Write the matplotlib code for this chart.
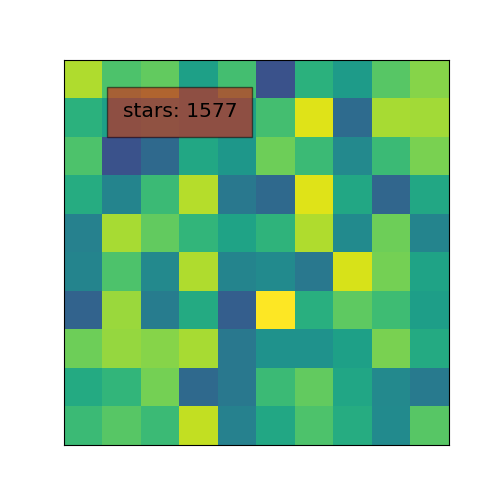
import matplotlib
matplotlib.use("Agg")
import matplotlib.pyplot as plt
import numpy as np

rows = [
    [0.88, 0.72, 0.76, 0.57, 0.70, 0.25, 0.64, 0.55, 0.74, 0.82],
    [0.64, 0.57, 0.59, 0.57, 0.57, 0.70, 0.95, 0.35, 0.87, 0.86],
    [0.72, 0.25, 0.34, 0.60, 0.53, 0.78, 0.68, 0.47, 0.68, 0.80],
    [0.62, 0.45, 0.68, 0.89, 0.40, 0.34, 0.95, 0.60, 0.33, 0.60],
    [0.44, 0.87, 0.76, 0.66, 0.58, 0.65, 0.88, 0.48, 0.78, 0.45],
    [0.45, 0.72, 0.47, 0.88, 0.45, 0.48, 0.40, 0.94, 0.79, 0.58],
    [0.32, 0.85, 0.42, 0.61, 0.30, 1.00, 0.63, 0.75, 0.69, 0.56],
    [0.78, 0.84, 0.82, 0.87, 0.40, 0.51, 0.51, 0.57, 0.80, 0.61],
    [0.61, 0.66, 0.79, 0.34, 0.40, 0.68, 0.76, 0.59, 0.47, 0.41],
    [0.68, 0.74, 0.68, 0.91, 0.44, 0.60, 0.72, 0.62, 0.48, 0.74],
]
label = "stars: 1577"

data = np.array(rows)
fig, ax = plt.subplots(figsize=(5, 5), dpi=100)
ax.imshow(data, cmap="viridis", vmin=0, vmax=1)
ax.set_xticks([])
ax.set_yticks([])
ax.text(0.153, 0.851, label, transform=ax.transAxes, fontsize=14.6,
        va="baseline", ha="left",
        bbox=dict(boxstyle="square,pad=0.75", facecolor="red", edgecolor="black", alpha=0.5))
fig.savefig("out.png", dpi=100)
